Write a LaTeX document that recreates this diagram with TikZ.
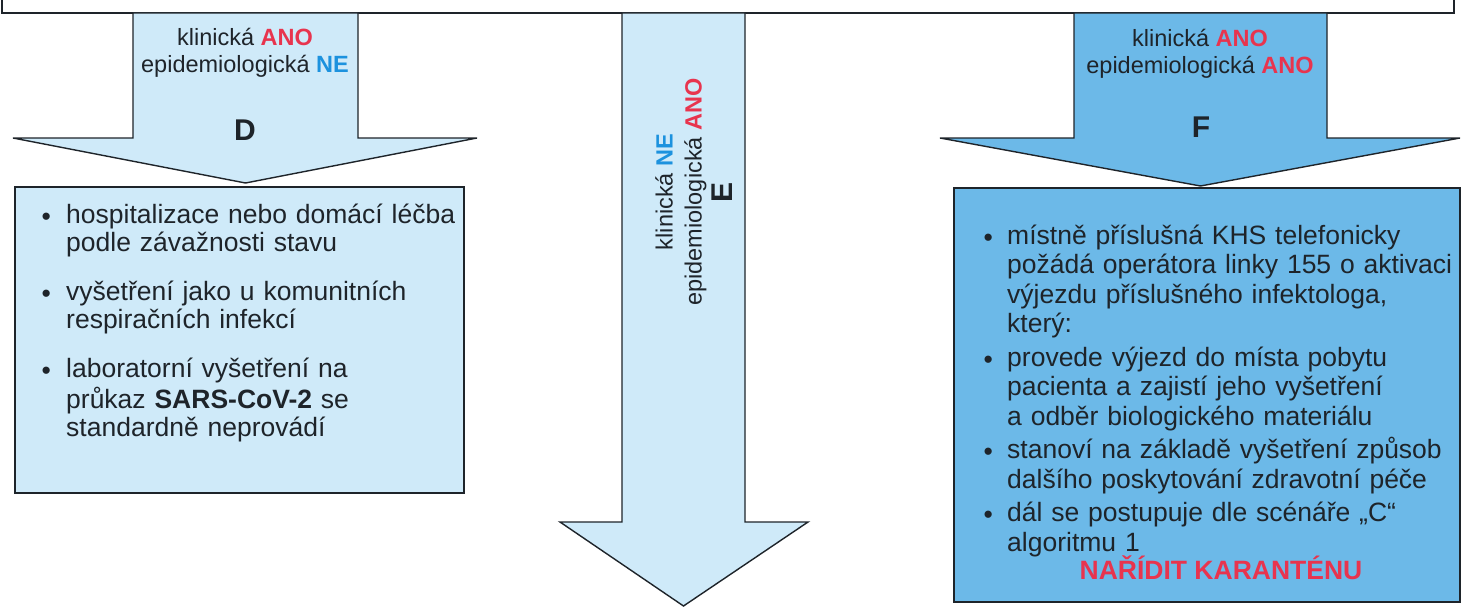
\documentclass[tikz,border=0pt]{standalone}
\usepackage{fontspec}
\setmainfont{Liberation Sans}
\usepackage{xcolor}
\definecolor{paleblue}{RGB}{207,234,249}
\definecolor{midblue}{RGB}{108,185,232}
\definecolor{anored}{RGB}{232,52,78}
\definecolor{neblue}{RGB}{28,146,222}
\definecolor{inkdark}{RGB}{30,36,42}
\newcommand{\tagano}{\textcolor{anored}{\textbf{ANO}}}
\newcommand{\tagne}{\textcolor{neblue}{\textbf{NE}}}
% bullet item with hanging indent
\newcommand{\bul}[1]{\par\hangindent=#1\hangafter=1\noindent\makebox[#1][l]{\strut\raisebox{-2pt}{\textbullet}}\ignorespaces}
\newcommand{\itemgap}[1]{\par\vspace{#1}}
\tikzset{
  % header frame
  banner/.style={draw=inkdark, line width=1.4pt},
  % big block arrows
  bigarrow/.style={draw=inkdark, line width=1.4pt, line join=miter},
  % boxes with the steps
  infobox/.style={draw=inkdark, line width=1.4pt},
  % labels on the arrows
  armlab/.style={font=\fontsize{23.5}{27}\selectfont, text=inkdark, align=center, inner sep=0pt},
  letter/.style={font=\fontsize{30}{30}\selectfont\bfseries, text=inkdark, inner sep=0pt},
  % bullet text
  steps/.style={text=inkdark, align=left, inner sep=0pt, anchor=north west},
  warn/.style={font=\fontsize{26.5}{29}\selectfont\bfseries, text=anored, inner sep=0pt, anchor=base},
}
\begin{document}
\begin{tikzpicture}[x=1pt, y=-1pt]
        \useasboundingbox (0,0) rectangle (1469,610);

        % Header box, cut by the top edge
        \draw[banner] (2,0) -- (2,13) -- (1454,13) -- (1454,0);

        % Block arrows: shaft left/right, wing left/right, shoulder, tip, fill
        \foreach \sl/\sr/\wl/\wr/\sy/\ty/\col in {133/358/13/477/138/183/paleblue,
            622/745/560/808/522/606/paleblue, 1074/1327/940/1460/138/186/midblue} {
            \filldraw[bigarrow, fill=\col] (\sl,13) -- (\sl,\sy) -- (\wl,\sy)
                -- ({(\sl+\sr)/2},\ty) -- (\wr,\sy) -- (\sr,\sy) -- (\sr,13) -- cycle;
        }

        % Boxes
        \filldraw[infobox, fill=paleblue] (15,187) rectangle (464,493);
        \filldraw[infobox, fill=midblue] (954,188) rectangle (1460,602);

        % Arrow D
        \node[armlab, anchor=north] (labD) at (245,26) {\strut klinická \tagano\\ epidemiologická \tagne};
        \node[letter] (letD) at (245,130) {D};

        % Arrow E (text turned)
        \node[armlab, rotate=90, font=\fontsize{23.5}{29}\selectfont] (labE) at (694,192)
            {klinická \tagne\\ epidemiologická \tagano\\[2pt] {\fontsize{30}{30}\selectfont\bfseries E}};

        % Arrow F
        \node[armlab, anchor=north] (labF) at (1200,27) {\strut klinická \tagano\\ epidemiologická \tagano};
        \node[letter] (letF) at (1201,127) {F};

        % Steps for D
        \node[steps, text width=430, font=\fontsize{26.5}{28.3}\selectfont] (stepsD) at (41.4,195) {%
            \bul{24.6pt} hospitalizace nebo domácí léčba\newline podle závažnosti stavu
            \itemgap{20.5pt}
            \bul{24.6pt} vyšetření jako u komunitních\newline respiračních infekcí
            \itemgap{20.5pt}
            \bul{24.6pt} laboratorní vyšetření na\newline průkaz \textbf{SARS-CoV-2} se\newline standardně neprovádí\par};

        % Steps for F
        \node[steps, text width=475, font=\fontsize{26.5}{29.5}\selectfont] (stepsF) at (983.4,214.5) {%
            \bul{23.6pt} místně příslušná KHS telefonicky\newline požádá operátora linky 155 o aktivaci\newline výjezdu příslušného infektologa,\newline který:
            \itemgap{4pt}
            \bul{23.6pt} provede výjezd do místa pobytu\newline pacienta a zajistí jeho vyšetření\newline a odběr biologického materiálu
            \itemgap{4pt}
            \bul{23.6pt} stanoví na základě vyšetření způsob\newline dalšího poskytování zdravotní péče
            \itemgap{4pt}
            \bul{23.6pt} dál se postupuje dle scénáře „C“\newline algoritmu 1\par};
        \node[warn] (quarantine) at (1221,579) {NAŘÍDIT KARANTÉNU};
\end{tikzpicture}
\end{document}
